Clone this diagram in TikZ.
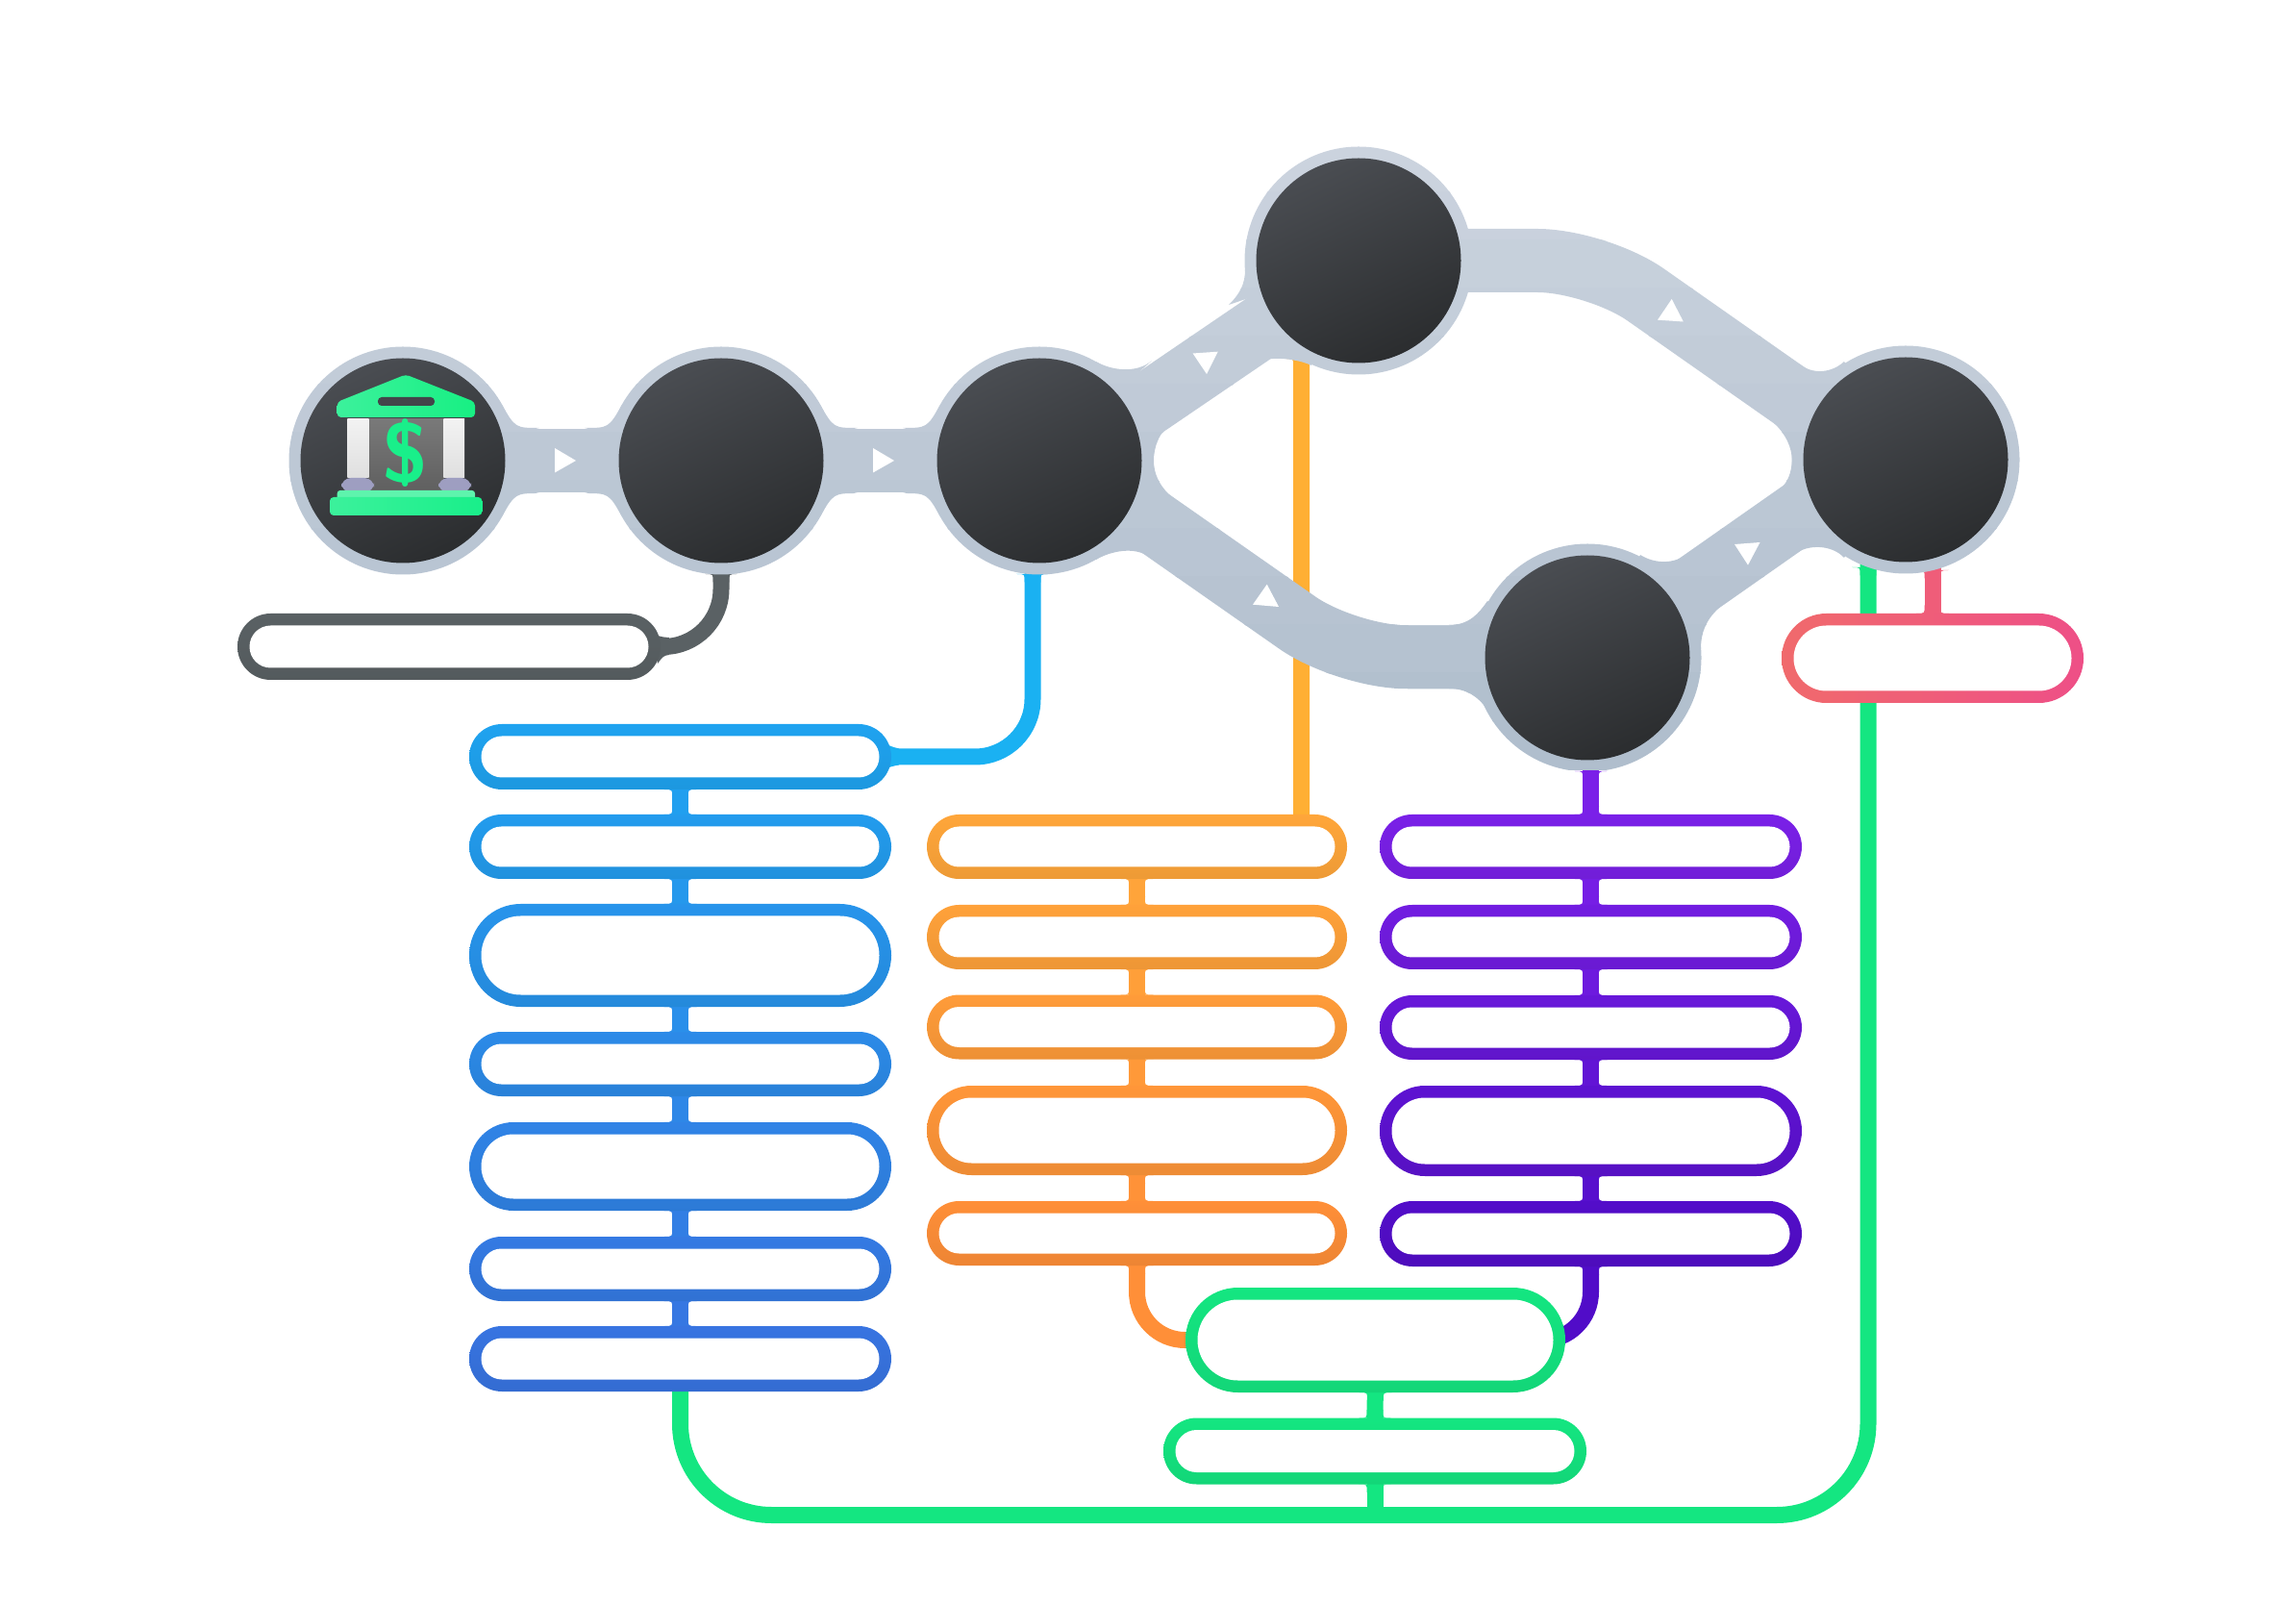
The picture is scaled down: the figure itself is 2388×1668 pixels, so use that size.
\documentclass[tikz,border=0pt]{standalone}
\usepackage{tikz}
\usetikzlibrary{shapes.misc}
\usetikzlibrary{calc}
\definecolor{nettop}{HTML}{CBD3DE}
\definecolor{netbot}{HTML}{B0BECD}
\definecolor{stoptop}{HTML}{4A4D52}
\definecolor{stopbot}{HTML}{2B2D2F}
\definecolor{blueT}{HTML}{1FA3F0}
\definecolor{blueB}{HTML}{3A70E0}
\definecolor{orangeT}{HTML}{FFA63A}
\definecolor{orangeB}{HTML}{FF8F38}
\definecolor{purpleT}{HTML}{7A20E8}
\definecolor{purpleB}{HTML}{510CC8}
\definecolor{greenL}{HTML}{14E681}
\definecolor{pinkL}{HTML}{F06A6C}
\definecolor{pinkR}{HTML}{EE4F87}
\definecolor{slate}{HTML}{5A6164}
\definecolor{bankgreen}{HTML}{19EF8A}
\pgfdeclarelayer{links}
\pgfdeclarelayer{net}
\pgfsetlayers{links,net,main}
\tikzset{
  stopnode/.style={circle,minimum size=21.3mm,inner sep=0,outer sep=0,
    top color=stoptop,bottom color=stopbot,shading angle=25},
  pill/.style n args={3}{rounded rectangle,inner sep=0,outer sep=0,
    minimum width=#1*0.1mm,minimum height=#2*0.1mm,
    top color=#3,bottom color=#3!93!black,
    path picture={\node[rounded rectangle,fill=white,inner sep=0,
      minimum width=(#1-25)*0.1mm,minimum height=(#2-25)*0.1mm]
      at (path picture bounding box.center) {};}},
  link/.style={line width=1.7mm},
  band/.style={line width=6.6mm,netcol},
  tick/.style={fill=white},
}
% concave corner at the foot of a stem
\newcommand{\flare}[4]{\fill[#4] (#1) ++(#2*6,0) -- ++(#2*11,0)
  .. controls +(#2*-9,0) .. ++(#2*-8.5,#3*8.5) -- ($(#1)+(#2*6,#3*8.5)$) -- cycle;}
\newcommand{\joint}[3]{%
  \draw[link,draw=#3] (#1.center) -- (#2.center);
  \foreach \s in {-1,1} {\flare{#1.south}{\s}{1}{#3} \flare{#2.north}{\s}{-1}{#3}}}
% fillet between a ring and a straight neck
\newcommand{\neck}[3]{\fill[netcol] (#1.center) -- ($(#1.center)+(#2*103,#3*58)$)
  .. controls ($(#1.center)+(#2*117,#3*34)$) .. ($(#1.center)+(#2*142,#3*34)$) -- cycle;}
\newcommand{\netshape}{%
  \foreach \n in {c1,c2,c3,c4,c5,c6} {\fill[netcol] (\n.center) circle [radius=118.5];}
  \draw[band] (c1.center) -- (c2.center);
  \draw[band] (c2.center) -- (c3.center);
  \draw[band] (c3up) -- (c4.center);
  \draw[band,rounded corners=6.2mm] (c3dn) -- (bendl) -- (c5.center);
  \draw[band,rounded corners=6.2mm] (c4.center) -- (bendt) -- (c6dn);
  \draw[band] (c5up) -- (c6up);
  \neck{c1}{1}{-1} \neck{c1}{1}{1}
  \neck{c2}{-1}{-1} \neck{c2}{-1}{1} \neck{c2}{1}{-1} \neck{c2}{1}{1}
  \neck{c3}{-1}{-1} \neck{c3}{-1}{1}
  \fill[netcol] (c3.center) -- (1140,376) .. controls (1155,385) and (1182,389) .. (1198,375) -- cycle;
  \fill[netcol] (c3.center) -- (1140,582) .. controls (1155,573) and (1180,568) .. (1195,579) -- cycle;
  \fill[netcol] (c3.center) -- (1220,518) .. controls (1205,505) and (1200,492) .. (1200,479)
    .. controls (1200,465) and (1205,450) .. (1220,438) -- cycle;
  \fill[netcol] (c4.center) -- (1306,378) .. controls (1316,370) and (1347,372) .. (1364,380) -- cycle;
  \fill[netcol] (c4.center) -- (1278,317) .. controls (1290,305) and (1295,295) .. (1295,280) -- cycle;
  \fill[netcol] (c5.center) -- (1507,650) .. controls (1528,650) and (1538,638) .. (1547,625) -- cycle;
  \fill[netcol] (c5.center) -- (1507,716) .. controls (1525,716) and (1538,725) .. (1546,737) -- cycle;
  \fill[netcol] (c5.center) -- (1706,577) .. controls (1720,586) and (1742,588) .. (1757,574) -- cycle;
  \fill[netcol] (c5.center) -- (1788,632) .. controls (1774,645) and (1769,658) .. (1769,675) -- cycle;
  \fill[netcol] (c6.center) -- (1871,378) .. controls (1885,390) and (1905,388) .. (1918,376) -- cycle;
  \fill[netcol] (c6.center) -- (1867,576) .. controls (1880,566) and (1905,566) .. (1918,580) -- cycle;
  \fill[netcol] (c6.center) -- (1845,440) .. controls (1858,452) and (1863,465) .. (1864,478)
    .. controls (1863,492) and (1860,502) .. (1848,512) -- cycle;
}
\begin{document}
\begin{tikzpicture}[x=0.1mm,y=-0.1mm]
    \useasboundingbox (0,0) rectangle (2388,1668);
    \node[stopnode] (c1) at (419,479) {};
    \node[stopnode] (c2) at (750,479) {};
    \node[stopnode] (c3) at (1081,479) {};
    \node[stopnode] (c4) at (1413,271) {};
    \node[stopnode] (c5) at (1651,684) {};
    \node[stopnode] (c6) at (1982,478) {};
    \coordinate (c3up) at (1081,497);
    \coordinate (c3dn) at (1081,460);
    \coordinate (bendl) at (1400,683);
    \coordinate (bendt) at (1661,271);
    \coordinate (c6dn) at (1982,496);
    \coordinate (c5up) at (1651,688);
    \coordinate (c6up) at (1982,456);
    \coordinate (lowl) at (707.5,1575.5);
    \coordinate (lowr) at (1943,1575.5);
    \coordinate (lowm) at (1430,1575.5);
    \node[pill={440}{69}{slate}] (gp) at (467,672.5) {};
    \node[pill={439}{68}{blueT}] (b1) at (707.5,787) {};
    \node[pill={439}{67}{blueB!14!blueT}] (b2) at (707.5,880.5) {};
    \node[pill={439}{107}{blueB!30!blueT}] (b3) at (707.5,993.5) {};
    \node[pill={439}{67}{blueB!48!blueT}] (b4) at (707.5,1106.5) {};
    \node[pill={439}{92}{blueB!62!blueT}] (b5) at (707.5,1213) {};
    \node[pill={439}{67}{blueB!80!blueT}] (b6) at (707.5,1319.5) {};
    \node[pill={439}{68}{blueB!92!blueT}] (b7) at (707.5,1413) {};
    \node[pill={437}{67}{orangeT}] (o1) at (1182.5,880.5) {};
    \node[pill={437}{67}{orangeB!20!orangeT}] (o2) at (1182.5,974.5) {};
    \node[pill={437}{67}{orangeB!45!orangeT}] (o3) at (1182.5,1068) {};
    \node[pill={437}{93}{orangeB!70!orangeT}] (o4) at (1182.5,1175.5) {};
    \node[pill={437}{67}{orangeB}] (o5) at (1182.5,1282.5) {};
    \node[pill={439}{67}{purpleT}] (p1) at (1654.5,880.5) {};
    \node[pill={439}{67}{purpleB!20!purpleT}] (p2) at (1654.5,974.5) {};
    \node[pill={439}{67}{purpleB!45!purpleT}] (p3) at (1654.5,1068.5) {};
    \node[pill={439}{94}{purpleB!70!purpleT}] (p4) at (1654.5,1176) {};
    \node[pill={439}{68}{purpleB!95!purpleT}] (p5) at (1654.5,1283) {};
    \node[pill={395}{109}{greenL}] (g1) at (1430.5,1393.5) {};
    \node[pill={440}{69}{greenL}] (g2) at (1430,1509) {};
    \node[pill={314}{93}{pinkL},left color=pinkL,right color=pinkR] (r1) at (2010,684.5) {};
    % links under the grey network
    \begin{pgfonlayer}{links}
    \draw[link,draw=slate,rounded corners=6mm] (c2.center) |- (gp.center);
    \draw[link,draw=blueT!85!cyan,rounded corners=6mm] (b1.center) -| ($(c3.center)+(-7,0)$);
    \draw[link,draw=orangeT!90!yellow] ($(o1.center)+(171,0)$) -- ($(c4.center)+(-59.5,0)$);
    \draw[link,draw=purpleT] (p1.center) -- ($(c5.center)+(3.5,0)$);
    \draw[link,draw=pinkR!50!pinkL] (r1.center) -- ($(c6.center)+(28,0)$);
    \draw[link,draw=greenL,rounded corners=9.5mm] (b7.center) -- (lowl) -- (lowr) -- ($(c6.center)+(-39,0)$);
    \draw[link,draw=orangeB,rounded corners=5mm] (o5.center) |- (g1.center);
    \draw[link,draw=purpleB,rounded corners=5mm] (p5.center) |- (g1.center);
    \joint{b1}{b2}{blueB!7!blueT}
    \joint{b2}{b3}{blueB!22!blueT}
    \joint{b3}{b4}{blueB!40!blueT}
    \joint{b4}{b5}{blueB!55!blueT}
    \joint{b5}{b6}{blueB!72!blueT}
    \joint{b6}{b7}{blueB!86!blueT}
    \joint{o1}{o2}{orangeB!10!orangeT}
    \joint{o2}{o3}{orangeB!32!orangeT}
    \joint{o3}{o4}{orangeB!58!orangeT}
    \joint{o4}{o5}{orangeB!85!orangeT}
    \joint{p1}{p2}{purpleB!10!purpleT}
    \joint{p2}{p3}{purpleB!32!purpleT}
    \joint{p3}{p4}{purpleB!58!purpleT}
    \joint{p4}{p5}{purpleB!85!purpleT}
    \joint{g1}{g2}{greenL}
    \draw[link,draw=greenL] (g2.center) -- (lowm);
    \foreach \s in {-1,1} {
      \flare{g2.south}{\s}{1}{greenL}
      \flare{o5.south}{\s}{1}{orangeB}
      \flare{p5.south}{\s}{1}{purpleB}
      \flare{p1.north}{\s}{-1}{purpleT}
      \flare{r1.north}{\s}{-1}{pinkR!50!pinkL}
      \flare{$(c3.center)+(-7,118)$}{\s}{1}{blueT!85!cyan}
      \flare{$(c5.center)+(3.5,118)$}{\s}{1}{purpleT}
      \flare{$(c2.center)+(0,118)$}{\s}{1}{slate}
      \flare{$(c6.center)+(-39,112)$}{\s}{1}{greenL}
      \flare{$(c6.center)+(28,115)$}{\s}{1}{pinkR!50!pinkL}
      \flare{$(c4.center)+(-59.5,102)$}{\s}{1}{orangeT!90!yellow}
    }
    \fill[blueT!85!cyan] (917,763) .. controls (922,775) .. (935,778.5) -- (935,795.5) .. controls (922,798) .. (917,810) -- cycle;
    \fill[slate] (679,655) .. controls (684,662) .. (696,663) -- (696,681) .. controls (690,682) .. (684,690) -- cycle;
    \end{pgfonlayer}
    % grey network, painted in strips for its top to bottom fade
    \begin{pgfonlayer}{net}
    \foreach \i in {0,...,12} {
      \pgfmathsetmacro{\fade}{\i*100/12}
      \colorlet{netcol}{netbot!\fade!nettop}
      \begin{scope}
        \clip (0,150+50*\i) rectangle (2388,201+50*\i);
        \netshape
      \end{scope}
    }
    \fill[tick] (577,466) -- (577,491.5) -- (599,479) -- cycle;
    \fill[tick] (908,466) -- (908,491.5) -- (930,479) -- cycle;
    \fill[tick] (1240.6,367.5) -- (1266.7,365.7) -- (1255,389) -- cycle;
    \fill[tick] (1738.7,311) -- (1724,332.7) -- (1750.8,334.5) -- cycle;
    \fill[tick] (1317.7,607.7) -- (1303,628.7) -- (1330,631) -- cycle;
    \fill[tick] (1804,566) -- (1830.5,564) -- (1818,587.6) -- cycle;
    \end{pgfonlayer}
    % bank icon
    \shade[top color=gray!95!black,bottom color=gray!75!black] (383.6,436) rectangle (461.4,510);
    \shade[top color=gray!10,bottom color=gray!25] (361.4,436) rectangle (383.6,497);
    \shade[top color=gray!10,bottom color=gray!25] (461.4,436) rectangle (483,497);
    \fill[gray!45!blue!25!lightgray,rounded corners=1mm] (355,497) rectangle (389,512);
    \fill[gray!45!blue!25!lightgray,rounded corners=1mm] (456,497) rectangle (490,512);
    \shade[left color=bankgreen!85!white,right color=bankgreen!95!green,rounded corners=0.4mm] (422,389.5) -- (494,418) -- (494,434) -- (350.7,434) -- (350.7,418) -- cycle;
    \fill[stoptop!90!black,rounded corners=0.4mm] (393,413) rectangle (452,422);
    \fill[bankgreen!70!white,rounded corners=0.3mm] (350.7,510) rectangle (494,522);
    \shade[left color=bankgreen!85!white,right color=bankgreen,rounded corners=0.4mm] (343,517) rectangle (501.4,536);
    \node[text=bankgreen,inner sep=0,font=\fontsize{25}{25}\sffamily\bfseries] (usd) at (422,471) {\$};
\end{tikzpicture}
\end{document}
